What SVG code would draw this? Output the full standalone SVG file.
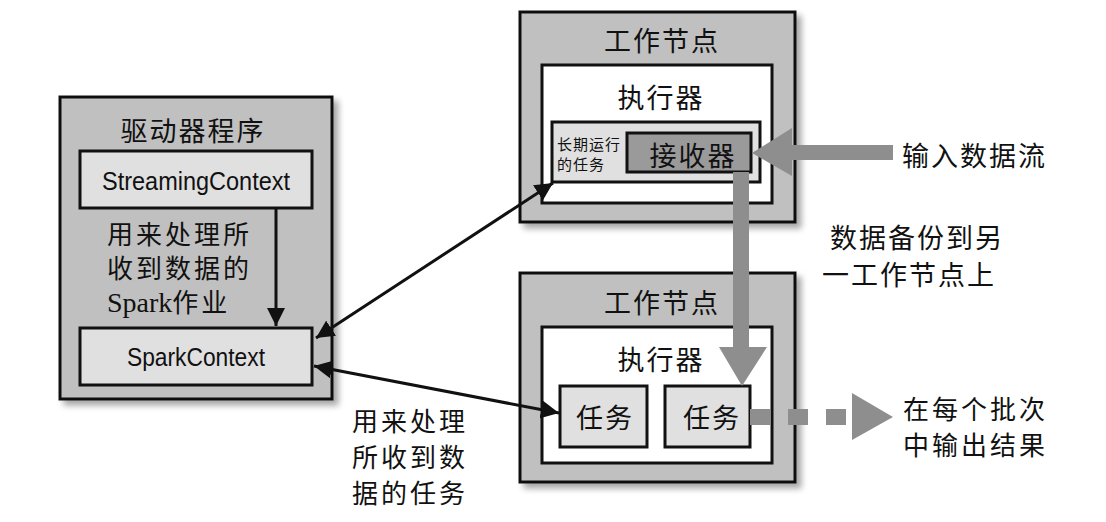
<svg xmlns="http://www.w3.org/2000/svg" width="1106" height="522" viewBox="0 0 1106 522">
<style>
.outer{fill:#c0c0c0;stroke:#111;stroke-width:3}
.exec{fill:#fff;stroke:#111;stroke-width:3}
.light{fill:#e0e0e0;stroke:#111;stroke-width:3}
.recv{fill:#9a9a9a;stroke:#111;stroke-width:3}
.cj{font-family:"Noto Sans CJK SC","Noto Sans",sans-serif;font-size:27px;fill:#111;letter-spacing:2px}
.cjs{font-family:"Noto Sans CJK SC","Noto Sans",sans-serif;font-size:26px;fill:#111;letter-spacing:3px}
.cjm{font-family:"Noto Sans CJK SC",sans-serif;font-size:15px;fill:#111}
.lat{font-family:"Liberation Sans",Arial,sans-serif;font-size:26px;fill:#111}
.blk{stroke:#111;stroke-width:3;fill:none}
.gry{fill:#8e8e8e;stroke:none}
</style>
<defs>
<filter id="sh" x="-10%" y="-10%" width="125%" height="125%">
<feGaussianBlur in="SourceAlpha" stdDeviation="3"/>
<feOffset dx="5" dy="5" result="b"/>
<feComponentTransfer><feFuncA type="linear" slope="0.35"/></feComponentTransfer>
<feMerge><feMergeNode/><feMergeNode in="SourceGraphic"/></feMerge>
</filter>
<marker id="ah" viewBox="0 0 10 10" refX="10" refY="5" markerWidth="6" markerHeight="6" orient="auto-start-reverse" markerUnits="strokeWidth">
<path d="M0,0 L10,5 L0,10 Z" fill="#111"/>
</marker>
</defs>

<g id="driver">
<rect class="outer" x="60" y="97" width="272" height="302" filter="url(#sh)"/>
<text class="cj" x="193" y="141" text-anchor="middle">驱动器程序</text>
</g>
<g id="streamingcontext">
<rect class="light" x="80" y="151" width="232" height="57"/>
<text class="lat" x="196" y="190" text-anchor="middle" textLength="188" lengthAdjust="spacingAndGlyphs">StreamingContext</text>
</g>
<g id="sparkcontext">
<rect class="light" x="80" y="328" width="232" height="57"/>
<text class="lat" x="196" y="366" text-anchor="middle" textLength="138" lengthAdjust="spacingAndGlyphs">SparkContext</text>
</g>
<g id="driver-label">
<text class="cjs" x="107" y="244">用来处理所</text>
<text class="cjs" x="107" y="278">收到数据的</text>
<text class="cjs" x="107" y="312"><tspan font-family="Liberation Serif, serif" font-size="28" letter-spacing="0">Spark</tspan>作业</text>
</g>

<g id="worker1">
<rect class="outer" x="520" y="12" width="275" height="210" filter="url(#sh)"/>
<text class="cj" x="662" y="51" text-anchor="middle">工作节点</text>
</g>
<g id="executor1">
<rect class="exec" x="542" y="65" width="230" height="138"/>
<text class="cj" x="661" y="108" text-anchor="middle">执行器</text>
</g>
<g id="longtask">
<rect class="light" x="552" y="122" width="208" height="60"/>
<text class="cjm" x="557" y="150" letter-spacing="1">长期运行</text>
<text class="cjm" x="557" y="170" letter-spacing="1">的任务</text>
</g>
<g id="receiver">
<rect class="recv" x="627" y="133" width="124" height="39"/>
<text class="cj" x="693" y="166" text-anchor="middle">接收器</text>
</g>

<g id="worker2">
<rect class="outer" x="520" y="273" width="275" height="209" filter="url(#sh)"/>
<text class="cj" x="662" y="313" text-anchor="middle">工作节点</text>
</g>
<g id="executor2">
<rect class="exec" x="542" y="327" width="230" height="136"/>
<text class="cj" x="661" y="370" text-anchor="middle">执行器</text>
</g>
<g id="task1">
<rect class="light" x="560" y="386" width="87" height="61"/>
<text class="cj" x="605" y="428" text-anchor="middle">任务</text>
</g>
<g id="task2">
<rect class="light" x="665" y="386" width="85" height="61"/>
<text class="cj" x="712" y="428" text-anchor="middle">任务</text>
</g>

<g id="connectors">
<line class="blk" x1="276" y1="208" x2="276" y2="326" marker-end="url(#ah)"/>
<line class="blk" x1="316" y1="338" x2="553" y2="183" marker-start="url(#ah)" marker-end="url(#ah)"/>
<line class="blk" x1="314" y1="366" x2="559" y2="413" marker-start="url(#ah)" marker-end="url(#ah)"/>
<rect class="gry" x="792" y="145" width="101" height="15"/>
<polygon class="gry" points="752,153 792,128 792,176"/>
<rect class="gry" x="733" y="172" width="16" height="176"/>
<polygon class="gry" points="719,347 767,347 742,386"/>
<rect class="gry" x="750" y="409" width="20" height="16"/>
<rect class="gry" x="788" y="409" width="20" height="16"/>
<rect class="gry" x="826" y="409" width="20" height="16"/>
<polygon class="gry" points="852,393 893,417 852,440"/>
</g>

<g id="labels">
<text class="cj" x="902" y="166">输入数据流</text>
<text class="cj" x="830" y="248">数据备份到另</text>
<text class="cj" x="822" y="285">一工作节点上</text>
<text class="cjs" x="352" y="431">用来处理</text>
<text class="cjs" x="352" y="467">所收到数</text>
<text class="cjs" x="352" y="503">据的任务</text>
<text class="cjs" x="903" y="419">在每个批次</text>
<text class="cjs" x="903" y="455">中输出结果</text>
</g>
</svg>
